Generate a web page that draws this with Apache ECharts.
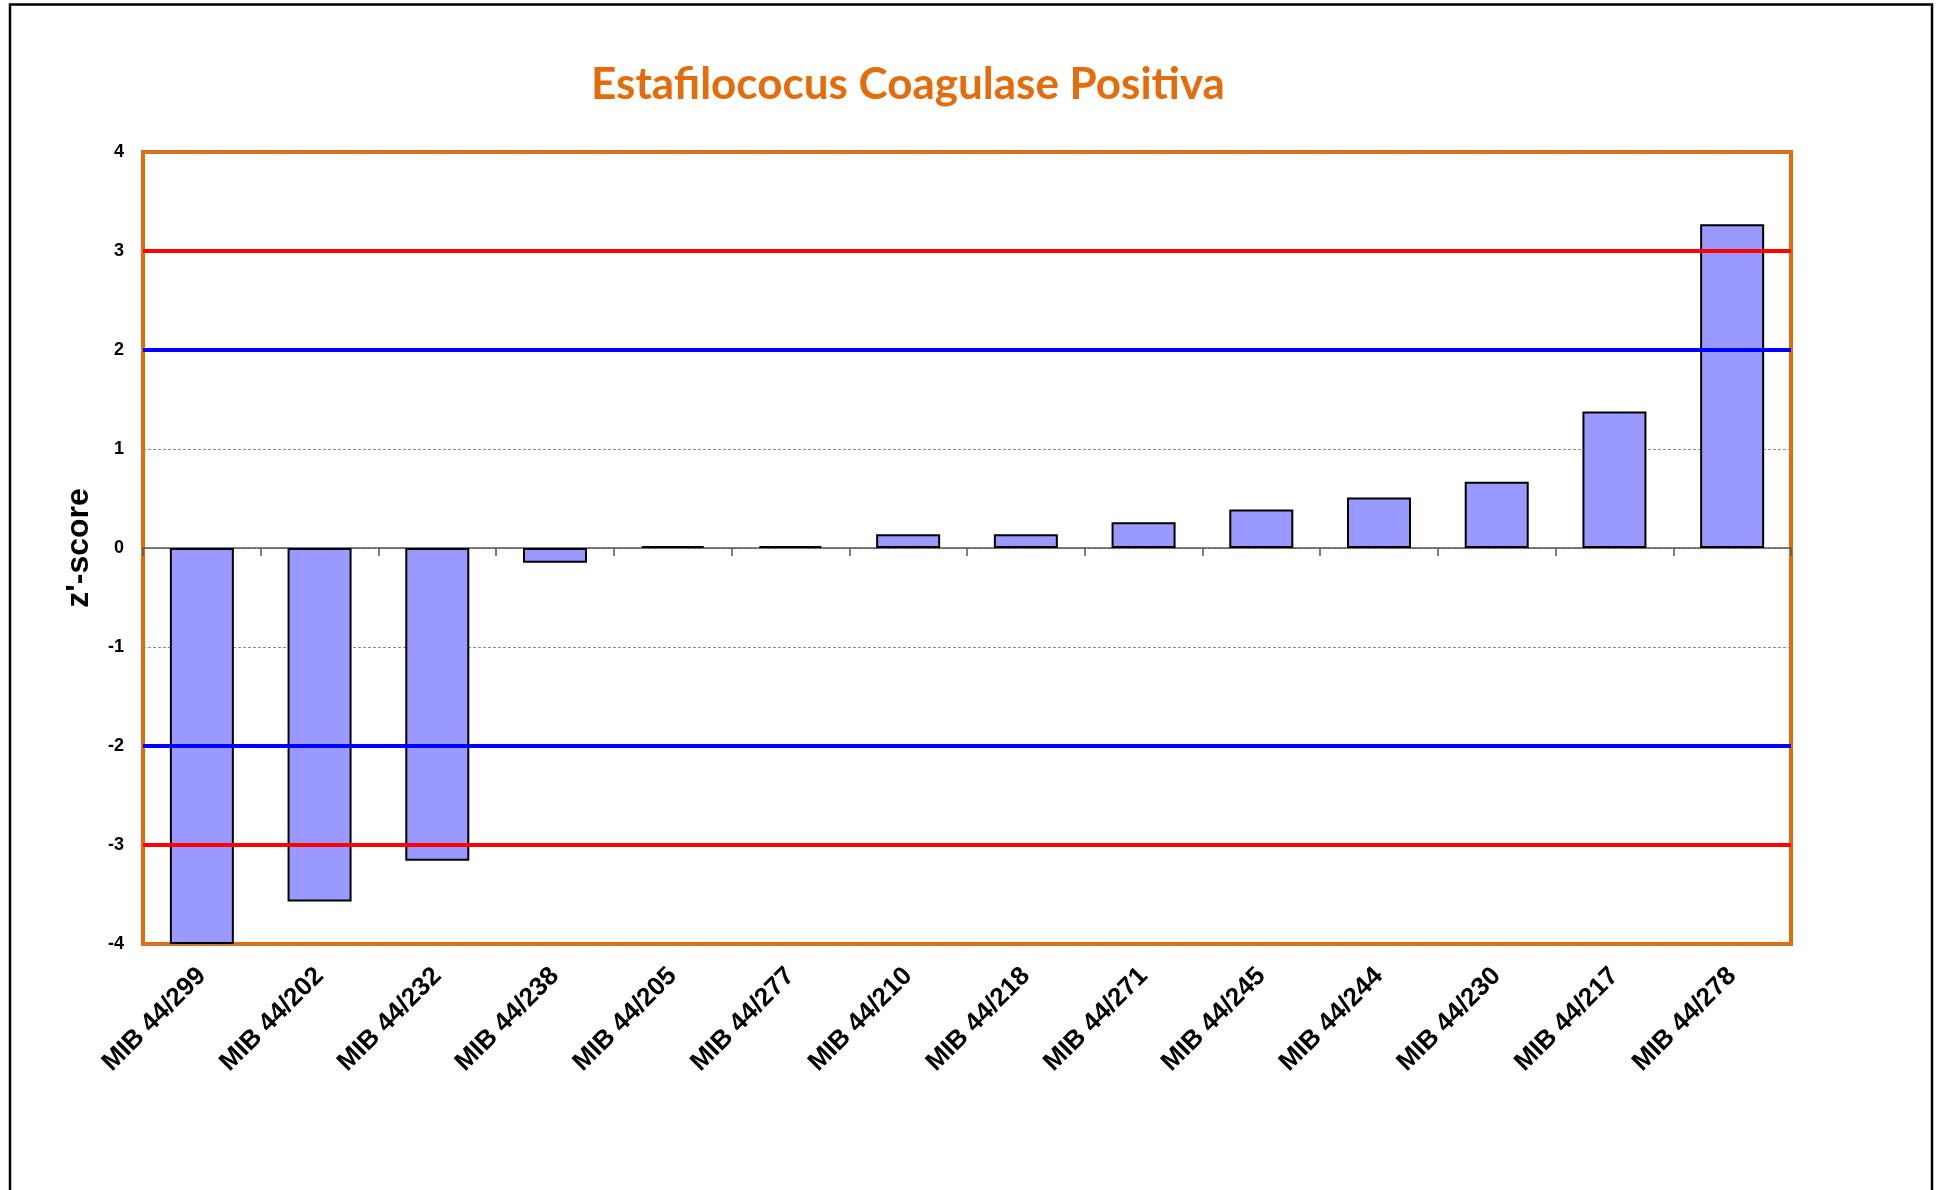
<!DOCTYPE html>
<html>
<head>
<meta charset="utf-8">
<script src="https://cdn.jsdelivr.net/npm/echarts@6/dist/echarts.min.js"></script>
<style>
html,body{margin:0;padding:0;background:#fff;}
#chart{width:1936px;height:1190px;}
</style>
</head>
<body>
<div id="chart"></div>
<script>
// ---- data ----
const categories = ['MIB 44/299','MIB 44/202','MIB 44/232','MIB 44/238','MIB 44/205','MIB 44/277','MIB 44/210','MIB 44/218','MIB 44/271','MIB 44/245','MIB 44/244','MIB 44/230','MIB 44/217','MIB 44/278'];
const zScores = [-4.0, -3.57, -3.16, -0.15, 0.02, 0.02, 0.14, 0.14, 0.26, 0.39, 0.51, 0.67, 1.38, 3.27];
const warningLimits = [2, -2];
const actionLimits = [3, -3];
const yMin = -4, yMax = 4, yStep = 1;
const titleText = 'Estafilococus Coagulase Positiva';
const yAxisName = "z'-score";

// ---- style helpers ----
const ORANGE = '#E46C0A';
const TITLE_FONT = 'Lato';
function fitFontSize(text, family, weight, targetWidth) {
  const c = document.createElement('canvas').getContext('2d');
  c.font = weight + ' 100px ' + family;
  const w = c.measureText(text).width;
  return 100 * targetWidth / w;
}
const titleSize = fitFontSize(titleText, TITLE_FONT, 'bold', 634);

const chart = echarts.init(document.getElementById('chart'), null, {renderer: 'canvas'});

const markData = [];
actionLimits.forEach(v => markData.push({yAxis: v, lineStyle: {color: '#FF0000', width: 4, type: 'solid'}}));
warningLimits.forEach(v => markData.push({yAxis: v, lineStyle: {color: '#0000FF', width: 4, type: 'solid'}}));

chart.setOption({
  animation: false,
  backgroundColor: '#fff',
  graphic: [
    {type: 'rect', shape: {x: 10, y: 4.5, width: 1922, height: 1300}, style: {fill: 'none', stroke: '#000', lineWidth: 2.5}, z: 0, silent: true},
    {type: 'text', x: 908, y: 85, style: {text: titleText, fontFamily: TITLE_FONT, fontWeight: 'bold', fontSize: titleSize, fill: ORANGE, align: 'center', verticalAlign: 'middle'}, z: 10}
  ],
  grid: {left: 143, top: 152, right: 145, bottom: 246, show: true, borderColor: ORANGE, borderWidth: 4, backgroundColor: 'transparent'},
  xAxis: [
    {
      type: 'category', data: categories, position: 'bottom',
      axisLine: {show: false, onZero: false},
      axisTick: {show: false},
      splitLine: {show: false},
      axisLabel: {interval: 0, rotate: 45, margin: 28, fontSize: 26, fontWeight: 'bold', color: '#000', fontFamily: 'Liberation Sans, Arial'}
    },
    {
      type: 'category', data: categories, position: 'bottom',
      axisLine: {show: true, onZero: true, lineStyle: {color: '#555', width: 1.5}},
      axisTick: {show: true, length: 8, alignWithLabel: false, lineStyle: {color: '#555', width: 1.5}},
      axisLabel: {show: false},
      splitLine: {show: false}
    }
  ],
  yAxis: {
    type: 'value', min: yMin, max: yMax, interval: yStep,
    name: yAxisName, nameLocation: 'middle', nameGap: 48,
    nameTextStyle: {fontSize: 32, fontWeight: 'bold', color: '#000', fontFamily: 'Liberation Sans, Arial'},
    axisLine: {show: false}, axisTick: {show: false},
    axisLabel: {margin: 19, fontSize: 18, fontWeight: 'bold', color: '#000', fontFamily: 'Liberation Sans, Arial'},
    splitLine: {show: true, lineStyle: {color: '#8c8c8c', width: 1, type: [3, 2]}}
  },
  series: [{
    type: 'bar', xAxisIndex: 0, data: zScores, barWidth: 64,
    itemStyle: {color: '#9999FF', borderColor: '#000', borderWidth: 2},
    markLine: {silent: true, symbol: 'none', label: {show: false}, data: markData, z: 5},
    z: 3
  }]
});
</script>
</body>
</html>
